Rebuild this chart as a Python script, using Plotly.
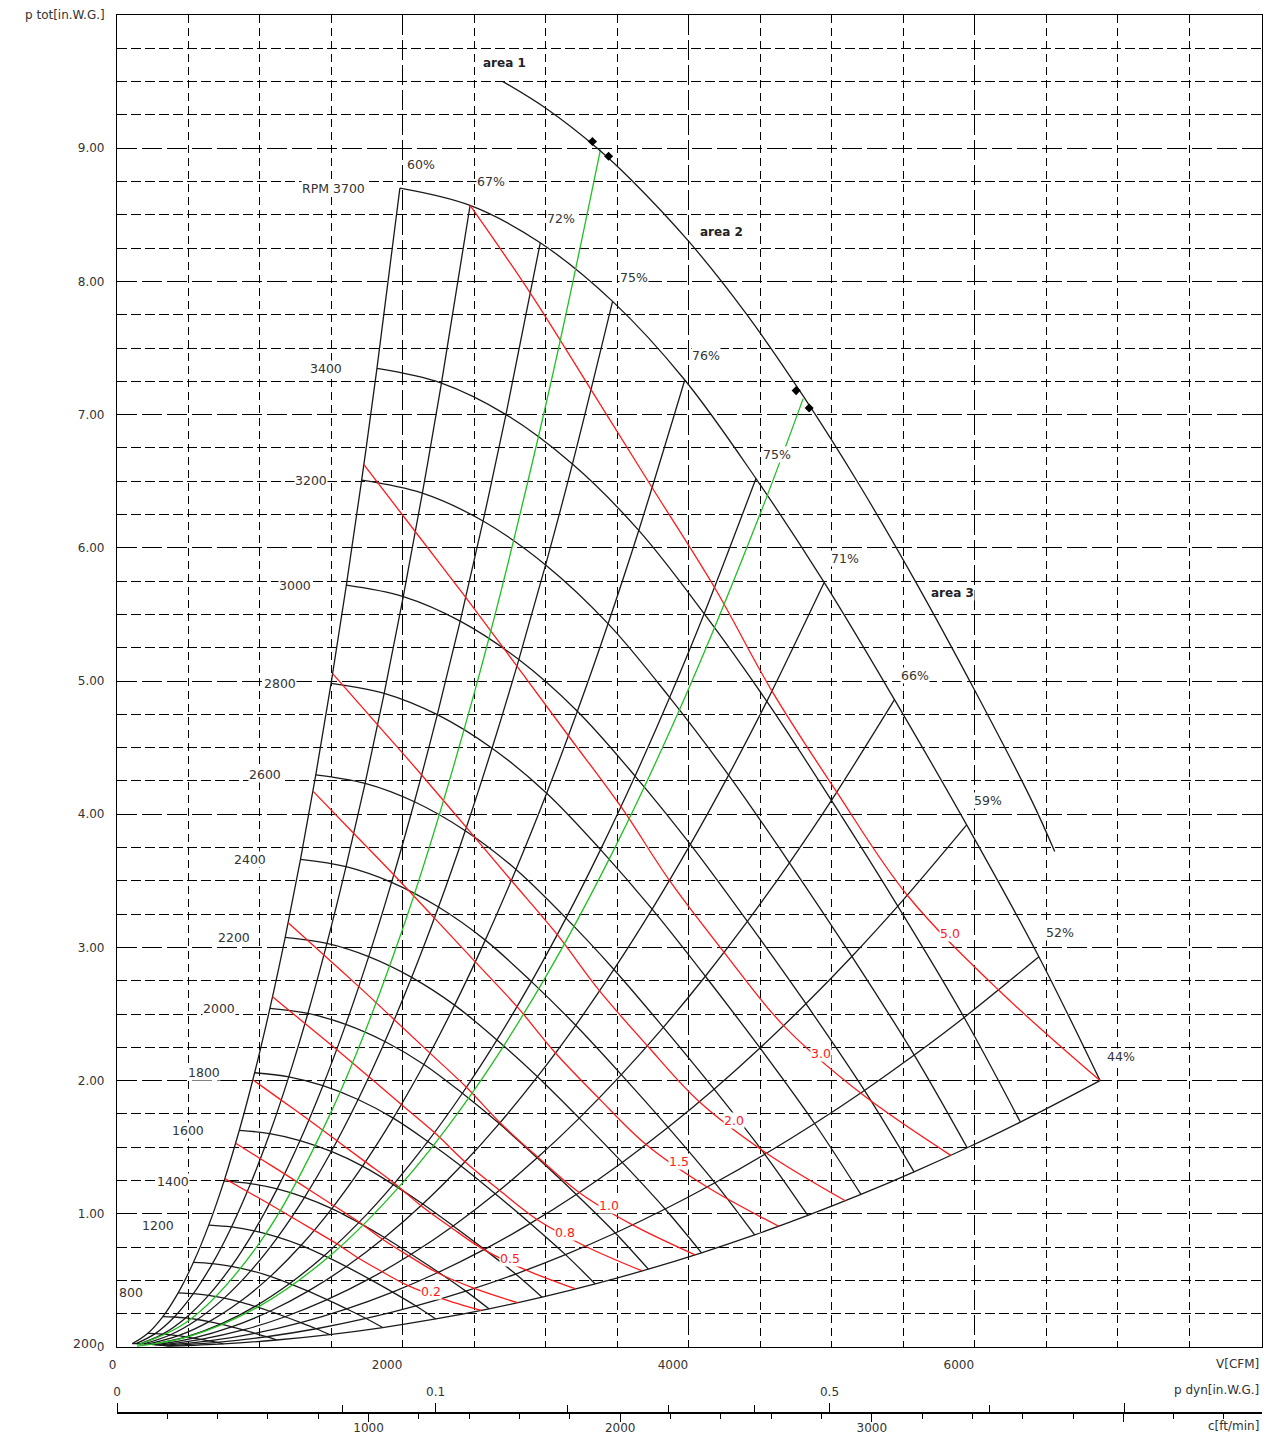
import math
import plotly.graph_objects as go

# ---------------- constants of the fan diagram ----------------
FAN_HP_CONST = 6356.0   # CFM * in.W.G. per hp (air power)
OUTLET_AREA = 1.76      # ft^2  (V = c * A, read from the c-scale)
DYN_CONST = 4005.0      # c[ft/min] = 4005 * sqrt(p_dyn[in.W.G.])

# ---------------- data ----------------
# characteristic at top speed, read where each efficiency line meets it
base_rpm = 3700
eff_labels = ["60%", "67%", "72%", "75%", "76%", "75%", "71%", "66%", "59%", "52%", "44%"]
eff_values = [0.60, 0.67, 0.72, 0.75, 0.76, 0.75, 0.71, 0.66, 0.59, 0.52, 0.44]
base_V = [1979, 2470, 2961, 3467, 3972, 4470, 4947, 5439, 5944, 6449, 6877]
base_p = [8.70, 8.57, 8.29, 7.85, 7.26, 6.52, 5.74, 4.86, 3.92, 2.93, 2.00]

rpm_values = [200, 400, 600, 800, 1000, 1200, 1400, 1600, 1800, 2000,
              2200, 2400, 2600, 2800, 3000, 3200, 3400, 3700]
rpm_labeled = [200, 800, 1200, 1400, 1600, 1800, 2000, 2200, 2400,
               2600, 2800, 3000, 3200, 3400, 3700]

# shaft power lines [hp]
power_hp = [0.25, 0.333, 0.5, 0.75, 1.0, 1.5, 2.0, 3.0, 5.0]
power_label_text = ["0.2", "0.5", "0.8", "1.0", "1.5", "2.0", "3.0", "5.0"]
power_label_V = [2196, 2751, 3137, 3439, 3930, 4316, 4926, 5825]
power_label_p = [0.413, 0.661, 0.863, 1.066, 1.389, 1.697, 2.207, 3.108]

# system curves (green)
green1_V = [140, 500, 1000, 1500, 2000, 2500, 3000, 3382]
green1_p = [0.015, 0.197, 0.786, 1.769, 3.144, 4.913, 7.074, 8.99]
green2_V = [140, 500, 1000, 1500, 2000, 2500, 3000, 3500, 4000, 4500, 4800]
green2_p = [0.006, 0.077, 0.309, 0.695, 1.236, 1.931, 2.781, 3.785, 4.944, 6.257, 7.12]

# outer limit curve (area 1 / 2 / 3)
limit_V = [2700, 3000, 3360, 3600, 4000, 4400, 4800, 5200, 5600, 6000, 6400, 6560]
limit_p = [9.50, 9.30, 9.00, 8.76, 8.30, 7.76, 7.14, 6.46, 5.72, 4.93, 4.10, 3.72]
mark_V = [3326, 3439, 4751, 4842]
mark_p = [9.05, 8.94, 7.18, 7.05]
area_text = ["area 1", "area 2", "area 3"]
area_V = [2554, 4070, 5684]
area_p = [9.64, 8.37, 5.66]

# axis scales
v_ticks = [0, 2000, 4000, 6000]
p_ticks = [0, 1, 2, 3, 4, 5, 6, 7, 8, 9]
v_minor_grid = [500, 1000, 1500, 2500, 3000, 3500, 4500, 5000, 5500, 6500, 7000, 7500]
p_minor_grid = [k / 4 for k in range(1, 40) if k % 4]
pdyn_major = [0, 0.1, 0.5, 1.0]
pdyn_major_text = ["0", "0.1", "0.5", ""]
pdyn_minor = [0.05, 0.2, 0.3, 0.4, 0.75]
c_major = [1000, 2000, 3000, 4000]
c_major_text = ["1000", "2000", "3000", ""]
c_minor = [200, 400, 600, 800, 1200, 1400, 1600, 1800, 2200, 2400, 2600,
           2800, 3200, 3400, 3600, 3800, 4200, 4400]

# ---------------- build curves with the fan affinity laws ----------------
BLACK = "#1a1a1a"
RED = "#ff1a1a"
GREEN = "#22c022"

rx, ry = [], []
for n in rpm_values:
    s = n / base_rpm
    rx += [s * v for v in base_V] + [None]
    ry += [s * s * p for p in base_p] + [None]

ex, ey = [], []
for v, p in zip(base_V, base_p):
    ex += [(n / base_rpm) * v for n in rpm_values] + [None]
    ey += [(n / base_rpm) ** 2 * p for n in rpm_values] + [None]

P_top = [v * p / (FAN_HP_CONST * e) for v, p, e in zip(base_V, base_p, eff_values)]
px_, py_ = [], []
for P in power_hp:
    for v, p, Pt in zip(base_V, base_p, P_top):
        s = (P / Pt) ** (1.0 / 3.0)
        if s <= 1.01:
            s = min(s, 1.0)
            px_.append(s * v)
            py_.append(s * s * p)
    px_.append(None)
    py_.append(None)

LW = 1.3
fig = go.Figure()
fig.add_trace(go.Scatter(x=rx, y=ry, mode="lines", line=dict(color=BLACK, width=LW, shape="spline"), hoverinfo="skip"))
fig.add_trace(go.Scatter(x=ex, y=ey, mode="lines", line=dict(color=BLACK, width=LW, shape="spline"), hoverinfo="skip"))
fig.add_trace(go.Scatter(x=px_, y=py_, mode="lines", line=dict(color=RED, width=LW, shape="spline"), hoverinfo="skip"))
fig.add_trace(go.Scatter(x=green1_V, y=green1_p, mode="lines", line=dict(color=GREEN, width=LW, shape="spline"), hoverinfo="skip"))
fig.add_trace(go.Scatter(x=green2_V, y=green2_p, mode="lines", line=dict(color=GREEN, width=LW, shape="spline"), hoverinfo="skip"))
fig.add_trace(go.Scatter(x=limit_V, y=limit_p, mode="lines", line=dict(color=BLACK, width=LW, shape="spline"), hoverinfo="skip"))
fig.add_trace(go.Scatter(x=mark_V, y=mark_p, mode="markers", marker=dict(color="black", size=7, symbol="diamond"), hoverinfo="skip"))
# empty traces so that the two secondary scales are drawn
fig.add_trace(go.Scatter(x=[None], y=[None], xaxis="x2", yaxis="y", mode="lines", hoverinfo="skip"))
fig.add_trace(go.Scatter(x=[None], y=[None], xaxis="x3", yaxis="y", mode="lines", hoverinfo="skip"))

FONT = "DejaVu Sans"
TXT = "#333333"
FS = 12.5
ann = []
for n in rpm_labeled:
    s = n / base_rpm
    ann.append(dict(x=s * base_V[0], y=s * s * base_p[0], xref="x", yref="y",
                    text=("RPM 3700" if n == 3700 else str(n)), showarrow=False,
                    xanchor="right", yanchor="middle", xshift=-34, bgcolor="white",
                    borderpad=0, font=dict(family=FONT, size=FS, color=TXT)))
for lab, v, p in zip(eff_labels, base_V, base_p):
    ann.append(dict(x=v, y=p, xref="x", yref="y", text=lab, showarrow=False,
                    xanchor="left", yanchor="middle", xshift=6, yshift=24, bgcolor="white",
                    borderpad=0, font=dict(family=FONT, size=FS, color=TXT)))
for lab, v, p in zip(power_label_text, power_label_V, power_label_p):
    ann.append(dict(x=v, y=p, xref="x", yref="y", text=lab, showarrow=False,
                    xanchor="center", yanchor="middle", bgcolor="white",
                    borderpad=0, font=dict(family=FONT, size=FS, color=RED)))
for lab, v, p in zip(area_text, area_V, area_p):
    ann.append(dict(x=v, y=p, xref="x", yref="y", text="<b>" + lab + "</b>", showarrow=False,
                    xanchor="left", yanchor="middle", bgcolor="white",
                    borderpad=0, font=dict(family=FONT, size=12, color="#222")))

# plot frame: x 117..1262 px, paper y 15..1433 px
def py_paper(ypx):
    return (1433 - ypx) / 1418.0

def px_paper(xpx):
    return (xpx - 117) / 1145.0

for txt, xr, yr in [("p tot[in.W.G.]", 107, 15), ("V[CFM]", 1261, 1364),
                    ("p dyn[in.W.G.]", 1261, 1390), ("c[ft/min]", 1261, 1426)]:
    ann.append(dict(x=px_paper(xr), y=py_paper(yr), xref="paper", yref="paper", text=txt,
                    showarrow=False, xanchor="right", yanchor="middle",
                    font=dict(family=FONT, size=12, color=TXT)))

XR = [0, 8010]
GW = 1.2
x_grid_major = dict(showgrid=True, gridcolor="black", gridwidth=GW, griddash="20px,5px")
y_grid_major = dict(showgrid=True, gridcolor="black", gridwidth=GW, griddash="20px,5px")
x_grid_minor = dict(showgrid=True, gridcolor="black", gridwidth=GW, griddash="8px,5px", ticks="")
y_grid_minor = dict(showgrid=True, gridcolor="black", gridwidth=GW, griddash="10px,4px", ticks="")
fig.update_layout(
    width=1269, height=1437,
    margin=dict(l=117, r=7, t=15, b=4, autoexpand=False),
    plot_bgcolor="white", paper_bgcolor="white",
    showlegend=False,
    font=dict(family=FONT, size=12, color=TXT),
    annotations=ann,
    xaxis=dict(range=XR, domain=[0, 1], anchor="y", tickmode="array",
               tickvals=v_ticks, ticks="", ticklabelposition="outside left",
               ticklabelstandoff=6, zeroline=False, showline=True, linecolor="black",
               linewidth=1.2, mirror=True, automargin=False,
               minor=dict(tickmode="array", tickvals=v_minor_grid, **x_grid_minor),
               **x_grid_major),
    yaxis=dict(range=[0, 10], domain=[(1433 - 1347) / 1418.0, 1], anchor="x", tickmode="array",
               tickvals=p_ticks, tickformat=".2f", ticks="", ticklabelstandoff=9,
               zeroline=False, showline=True, linecolor="black", linewidth=1.2, mirror=True,
               automargin=False,
               minor=dict(tickmode="array", tickvals=p_minor_grid, **y_grid_minor),
               **y_grid_major),
    xaxis2=dict(range=XR, overlaying="x", anchor="free", position=py_paper(1413), side="top",
                tickmode="array",
                tickvals=[OUTLET_AREA * DYN_CONST * math.sqrt(v) for v in pdyn_major],
                ticktext=pdyn_major_text, ticks="outside", ticklen=9, tickcolor="black",
                showline=True, linecolor="black", linewidth=1.5, showgrid=False, zeroline=False,
                ticklabelstandoff=2, automargin=False,
                minor=dict(tickmode="array",
                           tickvals=[OUTLET_AREA * DYN_CONST * math.sqrt(v) for v in pdyn_minor],
                           ticks="outside", ticklen=7, tickcolor="black", showgrid=False)),
    xaxis3=dict(range=XR, overlaying="x", anchor="free", position=py_paper(1413), side="bottom",
                tickmode="array", tickvals=[OUTLET_AREA * c for c in c_major],
                ticktext=c_major_text, ticks="outside", ticklen=8, tickcolor="black",
                showline=False, showgrid=False, zeroline=False, automargin=False,
                ticklabelstandoff=-4,
                minor=dict(tickmode="array", tickvals=[OUTLET_AREA * c for c in c_minor],
                           ticks="outside", ticklen=5, tickcolor="black", showgrid=False)),
)

fig.write_html("out.html", config={"displayModeBar": False},
               post_script="document.body.style.margin='0px';document.body.style.overflow='hidden';")
